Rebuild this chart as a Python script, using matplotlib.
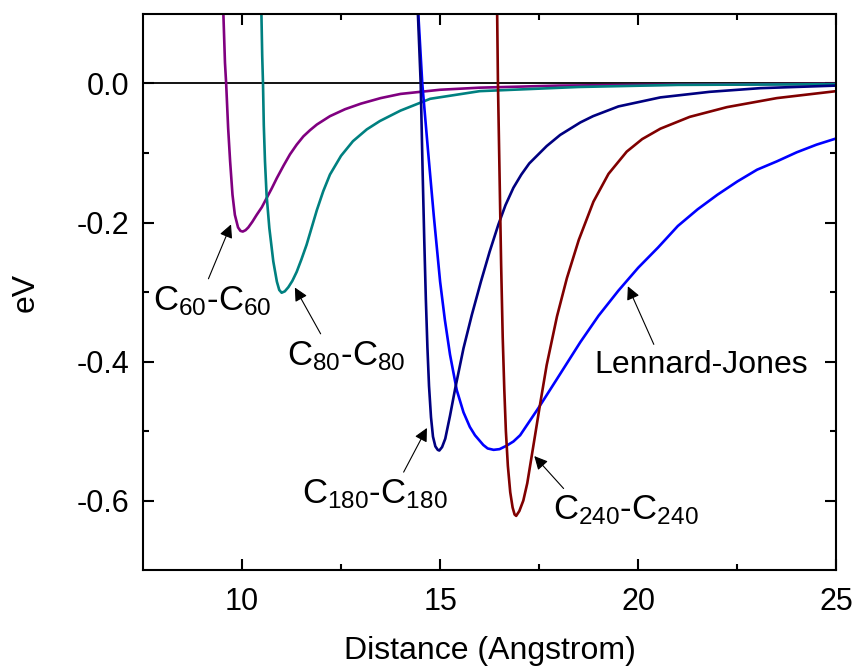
import numpy as np
import matplotlib
matplotlib.use("Agg")
import matplotlib.pyplot as plt

plt.rcParams['font.family'] = ['Liberation Sans', 'DejaVu Sans']
plt.rcParams['mathtext.fontset'] = 'custom'
plt.rcParams['mathtext.rm'] = 'Liberation Sans'
plt.rcParams['mathtext.it'] = 'Liberation Sans'

# values (distance in Angstrom, energy in eV)
c60_x = [9.50, 9.53, 9.57, 9.60, 9.65, 9.70, 9.76, 9.82, 9.90, 9.96, 10.02, 10.09, 10.16, 10.26,
         10.37, 10.50, 10.62, 10.75, 10.88, 11.05, 11.21, 11.38, 11.55, 11.72, 11.89, 12.22, 12.60,
         13.00, 13.50, 14.00, 15.00, 16.00, 18.00, 20.00, 25.00]
c60_y = [0.13, 0.10, 0.03, 0.0, -0.064, -0.112, -0.160, -0.189, -0.207, -0.212, -0.213, -0.211, -0.207,
         -0.199, -0.189, -0.178, -0.165, -0.151, -0.136, -0.118, -0.102, -0.088, -0.076, -0.067, -0.059,
         -0.047, -0.037, -0.029, -0.021, -0.015, -0.009, -0.006, -0.003, -0.002, -0.0005]

c80_x = [10.47, 10.49, 10.51, 10.53, 10.55, 10.58, 10.62, 10.69, 10.79, 10.88, 10.94, 11.00, 11.08,
         11.17, 11.27, 11.38, 11.50, 11.63, 11.76, 11.89, 12.05, 12.22, 12.50, 12.80, 13.15, 13.48,
         14.00, 14.75, 16.00, 18.50, 21.00, 25.00]
c80_y = [0.13, 0.10, 0.04, 0.0, -0.06, -0.112, -0.160, -0.208, -0.256, -0.285, -0.297, -0.301, -0.299,
         -0.293, -0.284, -0.271, -0.253, -0.232, -0.207, -0.182, -0.155, -0.131, -0.104, -0.083, -0.066,
         -0.054, -0.039, -0.022, -0.011, -0.005, -0.002, -0.001]

c180_x = [14.42, 14.44, 14.51, 14.56, 14.60, 14.64, 14.68, 14.72, 14.77, 14.82, 14.88, 14.94, 14.98,
          15.05, 15.13, 15.25, 15.38, 15.59, 15.80, 16.03, 16.25, 16.47, 16.65, 16.85, 17.05, 17.25,
          17.69, 18.03, 18.54, 18.86, 19.50, 20.56, 21.80, 23.08, 25.00]
c180_y = [0.13, 0.10, 0.0, -0.13, -0.225, -0.31, -0.38, -0.435, -0.48, -0.508, -0.522, -0.527, -0.528,
          -0.523, -0.511, -0.478, -0.439, -0.381, -0.333, -0.285, -0.242, -0.203, -0.175, -0.150, -0.131,
          -0.115, -0.090, -0.074, -0.056, -0.047, -0.033, -0.020, -0.012, -0.0067, -0.003]

c240_x = [16.43, 16.44, 16.46, 16.50, 16.54, 16.58, 16.62, 16.66, 16.71, 16.77, 16.83, 16.88, 16.92,
          17.00, 17.10, 17.20, 17.30, 17.40, 17.51, 17.69, 17.95, 18.20, 18.50, 18.87, 19.25, 19.71,
          20.10, 20.56, 21.30, 22.24, 23.50, 25.00]
c240_y = [0.13, 0.10, 0.0, -0.13, -0.26, -0.365, -0.44, -0.50, -0.55, -0.588, -0.61, -0.62, -0.622,
          -0.615, -0.60, -0.575, -0.54, -0.505, -0.466, -0.405, -0.335, -0.28, -0.225, -0.170, -0.130,
          -0.098, -0.080, -0.065, -0.048, -0.034, -0.021, -0.011]

lj_x = [14.40, 14.45, 14.55, 14.70, 14.84, 15.00, 15.12, 15.25, 15.42, 15.59, 15.75, 15.88, 16.09,
        16.20, 16.35, 16.50, 16.68, 16.85, 17.02, 17.48, 17.95, 18.54, 19.00, 19.50, 20.00, 20.50,
        21.00, 21.50, 22.00, 22.50, 23.00, 23.50, 24.00, 24.50, 25.00]
lj_y = [0.13, 0.10, 0.0, -0.10, -0.19, -0.285, -0.34, -0.39, -0.441, -0.473, -0.494, -0.506, -0.520,
        -0.525, -0.527, -0.526, -0.521, -0.515, -0.506, -0.467, -0.425, -0.372, -0.334, -0.298, -0.265,
        -0.236, -0.205, -0.181, -0.160, -0.141, -0.124, -0.112, -0.099, -0.088, -0.079]

fig = plt.figure(figsize=(8.56, 6.66), dpi=100)
ax = fig.add_axes([0.167, 0.144, 0.81, 0.835])

ax.axhline(0, color='black', lw=1.3, zorder=1)
ax.plot(c60_x, c60_y, color='#800080', lw=1.9, zorder=2)
ax.plot(c80_x, c80_y, color='#008080', lw=1.9, zorder=2)
ax.plot(lj_x, lj_y, color='#0000FF', lw=1.9, zorder=2)
ax.plot(c180_x, c180_y, color='#000080', lw=1.9, zorder=2)
ax.plot(c240_x, c240_y, color='#800000', lw=1.9, zorder=2)

ax.set_xlim(7.5, 25)
ax.set_ylim(-0.7, 0.1)
ax.set_xticks([10, 15, 20, 25])
ax.set_xticks([12.5, 17.5, 22.5], minor=True)
ax.set_yticks([-0.6, -0.4, -0.2, 0.0])
ax.set_yticklabels(['-0.6', '-0.4', '-0.2', '0.0'])
ax.set_yticks([-0.5, -0.3, -0.1], minor=True)
ax.tick_params(which='both', direction='in', top=True, right=True, width=1.5, labelsize=22)
ax.tick_params(axis='x', pad=12)
ax.tick_params(axis='y', pad=10)
ax.tick_params(which='major', length=8)
ax.tick_params(which='minor', length=4.5)
for s in ax.spines.values():
    s.set_linewidth(1.5)

ax.set_xlabel('Distance (Angstrom)', fontsize=23, labelpad=14)
ax.set_ylabel('eV', fontsize=23, labelpad=26)

arrow = dict(arrowstyle='-|>', color='black', lw=0.8, mutation_scale=20)
ax.annotate(r'C$_{60}$-C$_{60}$', xy=(9.75, -0.199), xytext=(7.75, -0.326),
            fontsize=25, ha='left', va='baseline', arrowprops=dict(arrow, relpos=(0.45, 1.0)))
ax.annotate(r'C$_{80}$-C$_{80}$', xy=(11.3, -0.29), xytext=(11.13, -0.405),
            fontsize=25, ha='left', va='baseline', arrowprops=dict(arrow, relpos=(0.31, 1.0)))
ax.annotate(r'C$_{180}$-C$_{180}$', xy=(14.7, -0.492), xytext=(11.51, -0.604),
            fontsize=25, ha='left', va='baseline', arrowprops=dict(arrow, relpos=(0.68, 1.0)))
ax.annotate(r'C$_{240}$-C$_{240}$', xy=(17.33, -0.533), xytext=(17.86, -0.627),
            fontsize=25, ha='left', va='baseline', arrowprops=dict(arrow, relpos=(0.1, 1.0)))
ax.annotate('Lennard-Jones', xy=(19.71, -0.288), xytext=(18.89, -0.416),
            fontsize=23, ha='left', va='baseline', arrowprops=dict(arrow, relpos=(0.29, 1.0)))

fig.savefig('out.png', dpi=100)
